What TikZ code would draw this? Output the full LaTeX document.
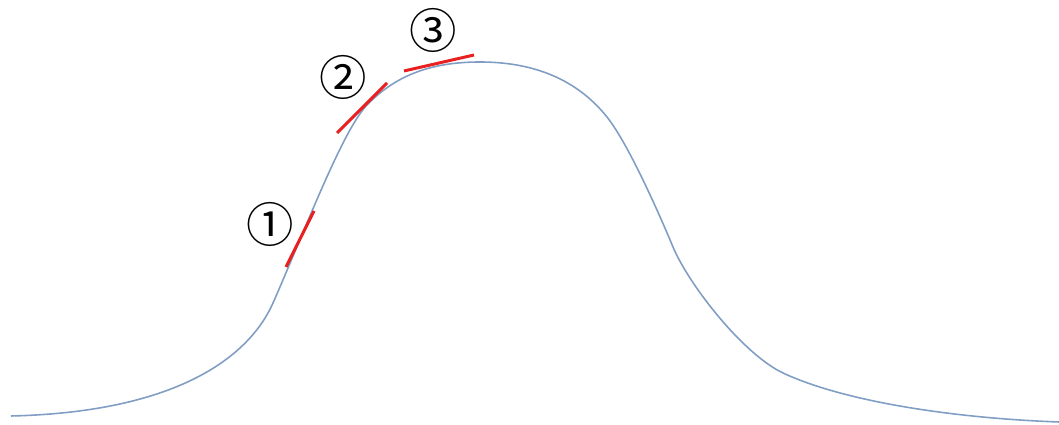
\documentclass[tikz,border=0pt]{standalone}
\usepackage{fontspec}
\newfontfamily\circfont{Noto Sans CJK SC}
\usetikzlibrary{positioning}
\definecolor{curveblue}{RGB}{128,158,196}
\definecolor{tanred}{RGB}{232,32,32}

\begin{document}
\begin{tikzpicture}[x=0.02cm,y=-0.02cm,
  tangent/.style={line width=1.7pt,tanred},
  num/.style={font=\circfont\fontsize{27}{27}\selectfont,inner sep=0pt}]
  \useasboundingbox (0,0) rectangle (1059,425);
  % bell curve
  \draw[curveblue,line width=0.9pt] (11,416)
    .. controls (180,412) and (250,355) .. (273,303)
    .. controls (303,235) and (342,131) .. (367,105)
    .. controls (395,76) and (430,62) .. (480,62)
    .. controls (530,62) and (575,77) .. (607,117)
    .. controls (630,146) and (663,223) .. (673,247)
    .. controls (689,285) and (743,354) .. (783,373)
    .. controls (843,401) and (950,418) .. (1059,422);
  % tangents
  \draw[tangent] (286,267) -- (314,211);
  \draw[tangent] (337,133) -- (387,83);
  \draw[tangent] (404,71) -- (474,55);
  % labels
  \node[num] (n1) at (270,224) {①};
  \node[num] (n2) at (343,77) {②};
  \node[num] (n3) at (433,30) {③};
\end{tikzpicture}
\end{document}
